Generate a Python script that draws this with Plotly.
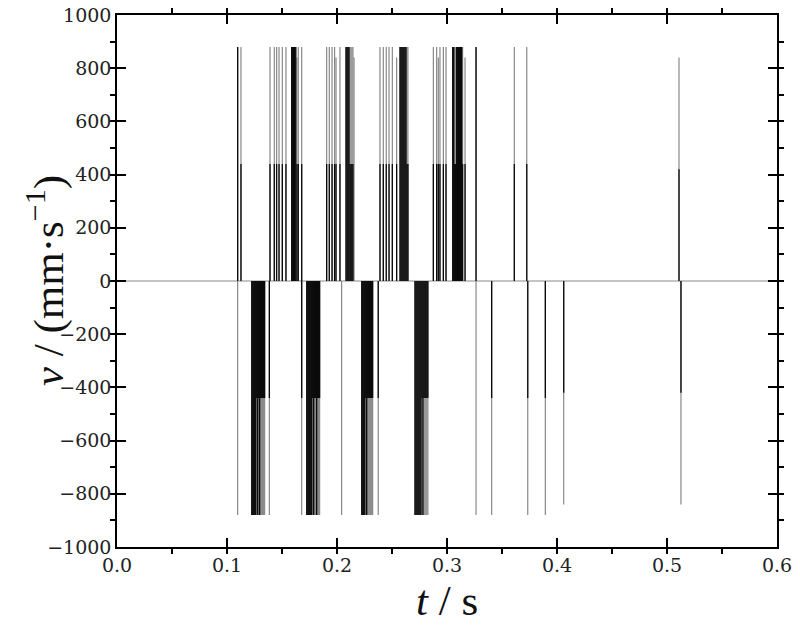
import plotly.graph_objects as go

# ---- data ----
# baseline of the velocity signal
base_t = [0.0, 0.6]
base_v = [0, 0]

# positive spikes: time, peak value, extent of the darker (overlapping) part
pos_t = [0.1097, 0.1127,
         0.1391, 0.1430, 0.1451, 0.1473, 0.1503, 0.1536,
         0.1588, 0.1597, 0.1606, 0.1615, 0.1625, 0.1636, 0.1648, 0.1679,
         0.1906, 0.1930, 0.1955, 0.1978, 0.1991, 0.2027,
         0.2082, 0.2091, 0.2100, 0.2109, 0.2118, 0.2127, 0.2136, 0.2145, 0.2155,
         0.2391, 0.2421, 0.2448, 0.2473, 0.2503, 0.2542,
         0.2573, 0.2582, 0.2591, 0.2600, 0.2609, 0.2618, 0.2627, 0.2636, 0.2645,
         0.2876, 0.2906, 0.2921, 0.2936, 0.2967, 0.2991,
         0.3052, 0.3061, 0.3070, 0.3079, 0.3088, 0.3097, 0.3106, 0.3115, 0.3124, 0.3133, 0.3142,
         0.3164, 0.3264,
         0.3612, 0.3725, 0.5109]
pos_peak = [880, 880,
            880, 880, 880, 880, 880, 880,
            880, 880, 880, 880, 880, 840, 880, 880,
            880, 880, 880, 880, 840, 880,
            880, 880, 880, 880, 880, 880, 880, 880, 840,
            880, 880, 880, 880, 880, 840,
            880, 880, 880, 880, 880, 880, 880, 880, 880,
            880, 880, 840, 880, 880, 880,
            880, 880, 880, 880, 880, 880, 880, 880, 880, 880, 880,
            840, 880,
            880, 880, 840]
pos_dark = [880, 440,
            440, 440, 440, 440, 440, 440,
            880, 880, 880, 880, 880, 440, 440, 440,
            440, 440, 440, 440, 440, 440,
            880, 880, 880, 880, 440, 440, 440, 440, 0,
            440, 440, 440, 440, 440, 440,
            880, 880, 880, 880, 880, 880, 880, 440, 440,
            440, 440, 440, 440, 440, 440,
            880, 880, 440, 440, 880, 880, 880, 880, 880, 880, 440,
            440, 880,
            440, 440, 420]

# negative spikes
neg_t = [0.1097,
         0.1225, 0.1234, 0.1243, 0.1252, 0.1261, 0.1270, 0.1279,
         0.1288, 0.1297, 0.1306, 0.1315, 0.1324, 0.1333, 0.1342,
         0.1385, 0.1679,
         0.1725, 0.1734, 0.1743, 0.1752, 0.1761, 0.1770, 0.1779,
         0.1788, 0.1797, 0.1806, 0.1815, 0.1824, 0.1833, 0.1842,
         0.2042,
         0.2225, 0.2234, 0.2243, 0.2252, 0.2261, 0.2270,
         0.2279, 0.2288, 0.2297, 0.2306, 0.2315, 0.2324,
         0.2375,
         0.2709, 0.2718, 0.2727, 0.2736, 0.2745, 0.2754, 0.2763,
         0.2772, 0.2781, 0.2790, 0.2799, 0.2808, 0.2817, 0.2826,
         0.3264, 0.3406, 0.3734, 0.3894, 0.4061, 0.5127]
neg_peak = [-880,
            -880, -880, -880, -880, -880, -880, -880,
            -880, -880, -880, -880, -880, -880, -880,
            -880, -880,
            -880, -880, -880, -880, -880, -880, -880,
            -880, -880, -880, -880, -880, -880, -880,
            -880,
            -880, -880, -880, -880, -880, -880,
            -880, -880, -880, -880, -880, -880,
            -880,
            -880, -880, -880, -880, -880, -880, -880,
            -880, -880, -880, -880, -880, -880, -880,
            -880, -880, -880, -880, -840, -840]
neg_dark = [0,
            -880, -880, -880, -880, -880, -440, -880,
            -440, -880, -440, -440, -440, -440, -440,
            -440, -440,
            -880, -880, -880, -880, -880, -880, -440,
            -880, -440, -440, -880, -440, -440, -440,
            0,
            -880, -880, -880, -880, -440, -880,
            -440, -440, -440, -440, -440, -440,
            -440,
            -880, -880, -880, -880, -880, -880, -880,
            -440, -880, -440, -440, -440, -440, -440,
            0, -440, -440, -440, -420, -420]

x_title = "<i>t</i> / s"
y_title = "<i>v</i> / (mm·s<sup>−1</sup>)"


def segments(ts, vs):
    xs, ys = [], []
    for t, v in zip(ts, vs):
        if v == 0:
            continue
        xs += [t, t, None]
        ys += [0, v, None]
    return xs, ys


all_t = pos_t + neg_t
all_peak = pos_peak + neg_peak
all_dark = pos_dark + neg_dark

gx, gy = segments(all_t, all_peak)
dx, dy = segments(all_t, all_dark)

fig = go.Figure()
fig.add_trace(go.Scatter(x=base_t, y=base_v, mode="lines",
                         line=dict(color="#8a8a8a", width=1.1), showlegend=False))
fig.add_trace(go.Scatter(x=gx, y=gy, mode="lines",
                         line=dict(color="#888888", width=1.2), showlegend=False))
fig.add_trace(go.Scatter(x=dx, y=dy, mode="lines",
                         line=dict(color="#0a0a0a", width=1.3), showlegend=False))

tickfont = dict(family="DejaVu Serif", size=19, color="#222")
titlefont = dict(family="Liberation Serif", size=43, color="#111")

axis_common = dict(
    showline=True, linewidth=1.5, linecolor="black", mirror="ticks",
    ticks="inside", ticklen=9, tickwidth=1.5, tickcolor="black",
    showgrid=False, zeroline=False, tickfont=tickfont, automargin=False,
    ticklabeloverflow="allow",
)

# the page body adds an 8 px offset, so the figure is sized to fit the window
fig.update_layout(
    width=792, height=623,
    paper_bgcolor="white", plot_bgcolor="white",
    margin=dict(l=109, r=23, t=7, b=84),
    xaxis=dict(range=[0, 0.6], dtick=0.1, tick0=0, tickformat=".1f",
               minor=dict(ticks="outside", ticklen=5, tickwidth=1.5,
                          tickcolor="black", dtick=0.05, showgrid=False),
               **axis_common),
    yaxis=dict(range=[-1000, 1000], dtick=200, tick0=0,
               minor=dict(ticks="outside", ticklen=5, tickwidth=1.5,
                          tickcolor="black", dtick=100, showgrid=False),
               **axis_common),
    annotations=[
        dict(text=x_title, xref="paper", yref="paper", x=0.5, y=-0.10,
             xanchor="center", yanchor="middle", showarrow=False, font=titlefont),
        dict(text=y_title, xref="paper", yref="paper", x=-0.109, y=0.50,
             xanchor="center", yanchor="middle", showarrow=False, font=titlefont,
             textangle=-90),
    ],
)

fig.write_html("out.html")
